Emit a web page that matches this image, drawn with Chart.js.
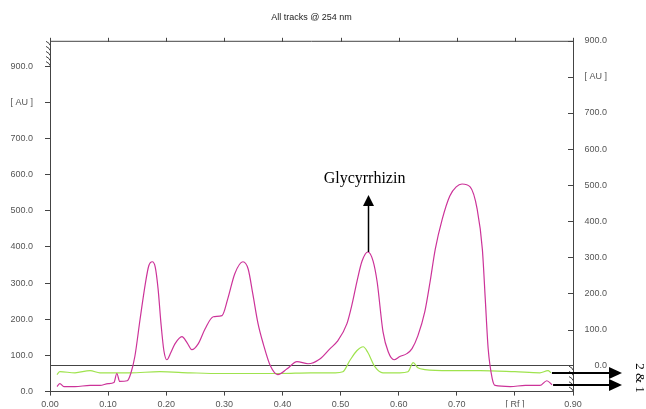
<!DOCTYPE html>
<html>
  <head>
    <title>All tracks @ 254 nm</title>
    <script src="https://cdn.jsdelivr.net/npm/chart.js"></script>
    <style>
      html,
      body {
        margin: 0;
        padding: 0;
        background: #fff;
      }
      .chart-container {
        width: 646px;
        height: 409px;
      }
    </style>
  </head>
  <body>
    <div class="chart-container">
      <canvas id="densChart"></canvas>
    </div>

    <script>
      // Track 1 (magenta) - Rf position and absorbance [AU]
      const track1Rf = [
        0.012, 0.017, 0.024, 0.043, 0.069, 0.086, 0.1, 0.11, 0.115, 0.12,
        0.133, 0.139, 0.146, 0.155, 0.164, 0.17, 0.176, 0.181, 0.186, 0.191,
        0.196, 0.201, 0.208, 0.215, 0.227, 0.236, 0.244, 0.255, 0.267, 0.281,
        0.296, 0.306, 0.318, 0.332, 0.341, 0.349, 0.358, 0.367, 0.379, 0.392,
        0.408, 0.425, 0.444, 0.465, 0.482, 0.494, 0.511, 0.52, 0.528, 0.537,
        0.547, 0.556, 0.563, 0.573, 0.582, 0.592, 0.602, 0.614, 0.623, 0.633,
        0.645, 0.654, 0.663, 0.675, 0.688, 0.699, 0.709, 0.723, 0.735, 0.744,
        0.749, 0.754, 0.761, 0.766, 0.792, 0.818, 0.843, 0.855, 0.864,
      ];
      const track1Au = [
        14, 22, 14, 14, 17, 17, 22, 25, 50, 28,
        30, 50, 97, 200, 298, 348, 359, 345, 284, 188,
        113, 88, 108, 132, 152, 135, 116, 132, 174, 207,
        210, 257, 326, 359, 339, 270, 188, 132, 72, 47,
        63, 83, 77, 91, 119, 138, 188, 243, 303, 361,
        386, 361, 303, 166, 110, 88, 97, 105, 119, 154,
        221, 303, 394, 477, 541, 566, 574, 566, 505, 394,
        257, 119, 36, 17, 14, 17, 17, 30, 19,
      ];

      // Track 2 (green)
      const track2Rf = [
        0.012, 0.017, 0.043, 0.069, 0.086, 0.138, 0.189, 0.241, 0.293, 0.344,
        0.396, 0.448, 0.491, 0.504, 0.516, 0.528, 0.539, 0.547, 0.559, 0.573,
        0.602, 0.616, 0.625, 0.633, 0.645, 0.688, 0.74, 0.8, 0.843, 0.857,
        0.862,
      ];
      const track2Au = [
        47, 55, 52, 58, 52, 52, 55, 52, 50, 50,
        50, 52, 52, 55, 86, 113, 124, 108, 69, 52,
        52, 55, 80, 66, 61, 58, 58, 55, 52, 58,
        52,
      ];

      const rfTicks = [0, 0.1, 0.2, 0.3, 0.4, 0.5, 0.6, 0.7, 0.8, 0.9];
      const auTicks = [0, 100, 200, 300, 400, 500, 600, 700, 800, 900];
      const rfUnitTick = 0.8;
      const auUnitTick = 800;
      const glycyrrhizinRf = 0.547;

      const toPoints = (xs, ys) => xs.map((x, i) => ({ x: x, y: ys[i] }));
      const axisGrey = "#444";
      const labelFont = { family: "Liberation Sans, Arial", size: 9 };

      function setTicks(values) {
        return (scale) => {
          scale.ticks = values.map((v) => ({ value: v }));
        };
      }

      function auLabel(value) {
        return value === auUnitTick ? "[ AU ]" : value.toFixed(1);
      }

      // axis breaks, inner tick marks, arrows and annotations
      const decorations = {
        id: "decorations",
        afterDraw(chart) {
          const { ctx, chartArea: a, scales } = chart;
          const x = scales.x;
          const yL = scales.y;
          const yR = scales.y2;
          ctx.save();
          ctx.strokeStyle = axisGrey;
          ctx.lineWidth = 1;

          // top frame with small tick marks
          ctx.beginPath();
          ctx.moveTo(a.left, a.top + 0.5);
          ctx.lineTo(a.right, a.top + 0.5);
          rfTicks.forEach((v) => {
            const px = Math.round(x.getPixelForValue(v)) + 0.5;
            ctx.moveTo(px, a.top - 3);
            ctx.lineTo(px, a.top + 1);
          });
          // right axis ticks point into the plot
          auTicks.forEach((v) => {
            if (v === 0) return;
            const py = Math.round(yR.getPixelForValue(v)) + 0.5;
            ctx.moveTo(a.right - 5, py);
            ctx.lineTo(a.right, py);
          });
          ctx.stroke();

          // break marks on the offset parts of both axes
          function breakMarks(axisX, y0, y1) {
            const n = 5;
            ctx.beginPath();
            for (let i = 0; i < n; i++) {
              const yy = y0 + ((y1 - y0) * (i + 0.3)) / n;
              ctx.moveTo(axisX - 4, yy - 1);
              ctx.lineTo(axisX - 1, yy + 1);
              ctx.lineTo(axisX, yy + 3);
            }
            ctx.stroke();
          }
          breakMarks(a.left, a.top, yL.getPixelForValue(900));
          breakMarks(a.right, yR.getPixelForValue(0), a.bottom);

          // arrows from the end of each track
          ctx.strokeStyle = "#000";
          ctx.fillStyle = "#000";
          ctx.lineWidth = 2;
          const tipX = a.right + 49;
          [
            [track2Rf, track2Au],
            [track1Rf, track1Au],
          ].forEach(([rf, au]) => {
            const n = rf.length - 1;
            const sx = x.getPixelForValue(rf[n]) + 1;
            const sy = Math.round(yL.getPixelForValue(au[n]));
            ctx.beginPath();
            ctx.moveTo(sx, sy);
            ctx.lineTo(tipX - 10, sy);
            ctx.stroke();
            ctx.beginPath();
            ctx.moveTo(tipX, sy);
            ctx.lineTo(tipX - 13, sy - 6);
            ctx.lineTo(tipX - 13, sy + 6);
            ctx.closePath();
            ctx.fill();
          });

          ctx.font = '13px "Liberation Serif", "Times New Roman", serif';
          ctx.textAlign = "center";
          ctx.textBaseline = "middle";
          ctx.save();
          ctx.translate(639, 378);
          ctx.rotate(Math.PI / 2);
          ctx.fillText("2 & 1", 0, 0);
          ctx.restore();

          // peak label
          const pi = track1Rf.indexOf(glycyrrhizinRf);
          const px = Math.round(x.getPixelForValue(glycyrrhizinRf)) + 0.5;
          const py = yL.getPixelForValue(track1Au[pi]);
          const tipY = py - 57;
          ctx.lineWidth = 1.5;
          ctx.beginPath();
          ctx.moveTo(px, py);
          ctx.lineTo(px, tipY + 8);
          ctx.stroke();
          ctx.beginPath();
          ctx.moveTo(px, tipY);
          ctx.lineTo(px - 5.5, tipY + 11);
          ctx.lineTo(px + 5.5, tipY + 11);
          ctx.closePath();
          ctx.fill();
          ctx.font = '16px "Liberation Serif", "Times New Roman", serif';
          ctx.textBaseline = "alphabetic";
          ctx.fillText("Glycyrrhizin", px - 4, tipY - 12);
          ctx.restore();
        },
      };

      new Chart(document.getElementById("densChart").getContext("2d"), {
        type: "line",
        data: {
          datasets: [
            {
              label: "Track 1",
              data: toPoints(track1Rf, track1Au),
              borderColor: "#cc3399",
              borderWidth: 1.2,
              pointRadius: 0,
              cubicInterpolationMode: "monotone",
              yAxisID: "y",
            },
            {
              label: "Track 2",
              data: toPoints(track2Rf, track2Au),
              borderColor: "#9fe34e",
              borderWidth: 1.2,
              pointRadius: 0,
              cubicInterpolationMode: "monotone",
              yAxisID: "y",
            },
          ],
        },
        options: {
          responsive: true,
          maintainAspectRatio: false,
          animation: false,
          layout: { padding: { left: 0, right: 39, top: 0, bottom: 0 } },
          plugins: {
            legend: { display: false },
            tooltip: { enabled: false },
            title: {
              display: true,
              text: "All tracks @ 254 nm",
              fullSize: false,
              color: "#222",
              font: { family: "Liberation Sans, Arial", size: 9, weight: "normal" },
              padding: { top: 12, bottom: 18 },
            },
          },
          scales: {
            x: {
              type: "linear",
              min: 0,
              max: 0.9,
              afterBuildTicks: setTicks(rfTicks),
              afterFit: (s) => {
                s.height = 16;
              },
              grid: {
                drawOnChartArea: false,
                tickLength: 4,
                color: axisGrey,
              },
              border: { color: axisGrey },
              ticks: {
                font: labelFont,
                color: "#555",
                padding: 4,
                maxRotation: 0,
                autoSkip: false,
                callback: (v) =>
                  Math.abs(v - rfUnitTick) < 1e-6 ? "[ Rf ]" : v.toFixed(2),
              },
            },
            y: {
              position: "left",
              min: 0,
              max: 970,
              afterBuildTicks: setTicks(auTicks),
              afterFit: (s) => {
                s.width = 50;
              },
              grid: {
                drawOnChartArea: false,
                tickLength: 5,
                color: axisGrey,
              },
              border: { color: axisGrey },
              ticks: {
                font: labelFont,
                color: "#555",
                padding: 12,
                callback: auLabel,
              },
            },
            y2: {
              position: "right",
              min: -72,
              max: 900,
              afterBuildTicks: setTicks(auTicks),
              afterFit: (s) => {
                s.width = 34;
              },
              grid: {
                drawTicks: false,
                tickLength: 0,
                color: (c) => (c.tick && c.tick.value === 0 ? axisGrey : "rgba(0,0,0,0)"),
              },
              border: { color: axisGrey },
              ticks: {
                font: labelFont,
                color: "#555",
                crossAlign: "far",
                callback: auLabel,
              },
            },
          },
        },
        plugins: [decorations],
      });
    </script>
  </body>
</html>
